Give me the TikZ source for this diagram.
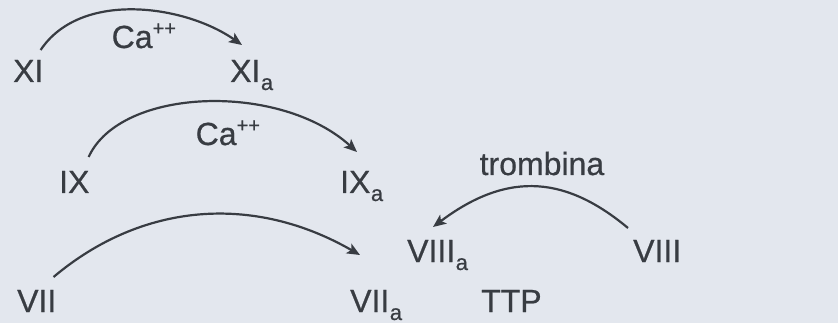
\documentclass[tikz,border=0pt]{standalone}
\usepackage{fontspec}
\setmainfont{Liberation Sans}
\newfontfamily\labelfont{Liberation Sans}[FakeBold=0.6]
\usetikzlibrary{arrows.meta,calc}

\definecolor{paper}{HTML}{E3E7EE}
\definecolor{ink}{HTML}{383C42}

% lowered "a" for activated factors, raised charge for calcium
\newcommand\actsub{\kern0.5pt\raisebox{-8pt}{\fontsize{22}{22}\selectfont a}}
\newcommand\charge{\raisebox{13pt}{\fontsize{20}{20}\selectfont ++}}

\begin{document}
\begin{tikzpicture}[x=1pt,y=-1pt,
  factor/.style={anchor=base west,inner sep=0pt,text=ink,
    font=\labelfont\fontsize{32}{38}\selectfont},
  conv/.style={draw=ink,line width=2.2pt,
    -{Stealth[length=13pt,width=11pt,inset=3pt]}}]

  % page
  \fill[paper] (0,0) rectangle (838,323);
  \useasboundingbox (0,0) rectangle (838,323);

  % factors
  \node[factor] (XI)   at (13,82)    {XI};
  \node[factor] (XIa)  at (230,82)   {XI\actsub};
  \node[factor] (IX)   at (59,193)   {IX};
  \node[factor] (IXa)  at (340,193)  {IX\actsub};
  \node[factor] (VII)  at (17,312)   {VII};
  \node[factor] (VIIa) at (350,312)  {VII\actsub};
  \node[factor] (VIIIa) at (407,262) {VIII\actsub};
  \node[factor] (VIII) at (633,262)  {VIII};
  \node[factor] (TTP)  at (481,312)  {TTP};

  % cofactor labels
  \node[factor] (ca1) at (111.5,48) {Ca\charge};
  \node[factor] (ca2) at (195.5,145) {Ca\charge};
  \node[factor] (thr) at (479.5,175) {trombina};

  % activation arrows
  \draw[conv] ($(XI.base east)+(-3,-32)$)
    .. controls +(40,-60) and +(-57,-40) .. ($(XIa.base west)+(12,-37)$);
  \draw[conv] ($(IX.base east)+(-1,-36)$)
    .. controls +(32,-70) and +(-77,-70) .. ($(IXa.base west)+(17,-41)$);
  \draw[conv] ($(VII.base east)+(-3,-35)$)
    .. controls +(89,-75) and +(-106,-61) .. ($(VIIa.base west)+(10,-57)$);
  \draw[conv] ($(VIII.base west)+(-5,-34)$)
    .. controls +(-60,-50) and +(77,-58) .. ($(VIIIa.base west)+(26,-35)$);
\end{tikzpicture}
\end{document}
